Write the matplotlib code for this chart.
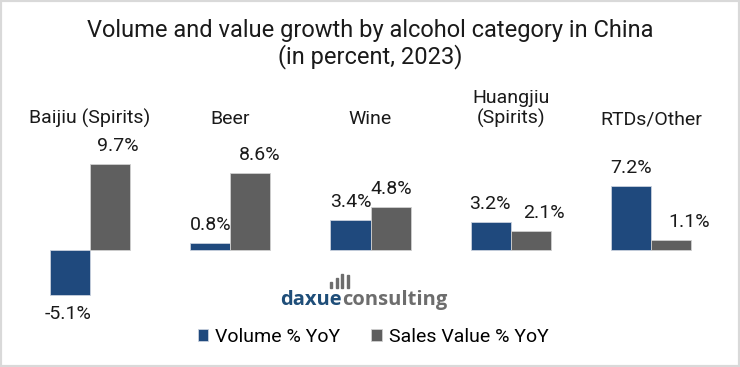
import matplotlib.pyplot as plt
import matplotlib.patches as mpatches
import matplotlib.transforms as mtransforms
import numpy as np

plt.rcParams['font.family'] = ['Roboto', 'DejaVu Sans']

categories = ["Baijiu (Spirits)", "Beer", "Wine", "Huangjiu\n(Spirits)", "RTDs/Other"]
volume = [-5.1, 0.8, 3.4, 3.2, 7.2]
sales = [9.7, 8.6, 4.8, 2.1, 1.1]
series_names = ["Volume % YoY", "Sales Value % YoY"]

blue = "#1f497d"
grey = "#5f5f5f"
txt = "#1a1a1a"

W, H = 740, 367
fig = plt.figure(figsize=(W / 100, H / 100), dpi=100)

# axes placed in pixels: x 20..721, zero line at y=250, ~8.9 px per percent
ymin, ymax = -7, 12
ppu = 8.9
zero_y = 250
ax_bottom = (H - (zero_y + (-ymin) * ppu)) / H
ax_height = (ymax - ymin) * ppu / H
ax = fig.add_axes([20 / W, ax_bottom, 701 / W, ax_height])
ax.set_xlim(-0.5, 4.5)
ax.set_ylim(ymin, ymax)
ax.axis("off")

x = np.arange(len(categories))
bw = 40 / 140
b1 = ax.bar(x - bw / 2, volume, bw, color=blue, edgecolor="#c9d1de", linewidth=0.6)
b2 = ax.bar(x + bw / 2, sales, bw, color=grey, edgecolor="#d0d0d0", linewidth=0.6)

# label offsets in pixels (x), sales labels for small bars sit to the right
vol_dx = [-2, 0, 0, -1, 0]
sal_dx = [8, 9, 1, 13, 18]
for i in range(len(categories)):
    v = volume[i]
    dy = 18 if v >= 0 else -19
    ax.annotate(f"{v:.1f}%", (x[i] - bw / 2, v), xytext=(vol_dx[i], dy),
                textcoords="offset pixels", ha="center", va="center", fontsize=14, color=txt)
    s = sales[i]
    ax.annotate(f"{s:.1f}%", (x[i] + bw / 2, s), xytext=(sal_dx[i], 18),
                textcoords="offset pixels", ha="center", va="center", fontsize=14, color=txt)

# category labels along the top
top_tr = mtransforms.blended_transform_factory(ax.transData, fig.transFigure)
for i, c in enumerate(categories):
    ax.text(x[i], (H - 128) / H, c, transform=top_tr,
            ha="center", va="bottom", fontsize=14, color=txt, linespacing=1.15)

fig.text(0.5, (H - 30) / H, "Volume and value growth by alcohol category in China",
         ha="center", va="center", fontsize=17, color=txt)
fig.text(0.5, (H - 57) / H, "(in percent, 2023)", ha="center", va="center", fontsize=17, color=txt)

# watermark logo
fig.text(342 / W, (H - 305) / H, "daxue", ha="right", va="baseline", fontsize=14.5,
         fontweight="bold", family="Open Sans", color="#1f4e79")
fig.text(342 / W, (H - 305) / H, "consulting", ha="left", va="baseline", fontsize=14.5,
         fontweight="bold", family="Open Sans", color="#6d6d6d")
for bx, top in zip([330, 335.5, 341, 346.5], [282, 278, 274, 275]):
    fig.patches.append(mpatches.Rectangle((bx / W, (H - 288) / H), 2.2 / W, (288 - top) / H,
                                          transform=fig.transFigure, color="#6d6d6d"))

fig.legend([b1, b2], series_names, loc="center", bbox_to_anchor=(373 / W, (H - 337) / H),
           ncol=2, frameon=False, fontsize=14, handlelength=0.55, handleheight=0.55,
           handletextpad=0.35, columnspacing=1.6)

fig.patches.append(mpatches.Rectangle((0, 0), 1, 1, transform=fig.transFigure, fill=False,
                                      edgecolor="#d9d9d9", linewidth=3))

fig.savefig("out.png", dpi=100, facecolor="white")
